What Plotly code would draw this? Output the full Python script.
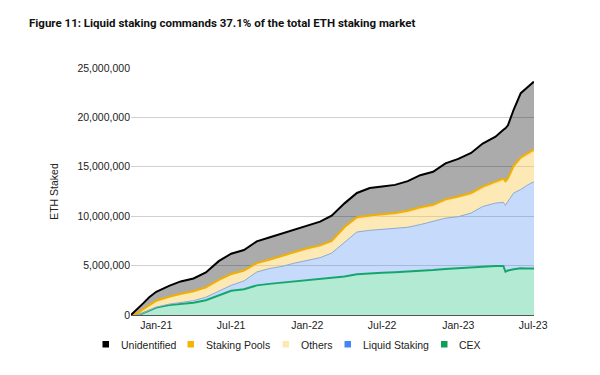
import plotly.graph_objects as go

# ---- data (values in millions of ETH) ----
dates = ["2020-11-01","2020-11-20","2020-12-01","2020-12-15","2021-01-01","2021-02-01","2021-03-01",
         "2021-04-01","2021-05-01","2021-06-01","2021-07-01","2021-08-01","2021-09-01","2021-10-01",
         "2021-11-01","2021-12-01","2022-01-01","2022-02-01","2022-03-01","2022-04-01","2022-05-01",
         "2022-06-01","2022-07-01","2022-08-01","2022-09-01","2022-10-01","2022-11-01","2022-12-01",
         "2023-01-01","2023-02-01","2023-03-01","2023-04-01","2023-04-20","2023-04-25","2023-05-01",
         "2023-05-15","2023-06-01","2023-06-15","2023-07-01","2023-07-03"]

cex_m = [0, 0.03, 0.2, 0.45, 0.75, 1.0, 1.1, 1.25, 1.5, 2.0, 2.45, 2.6, 3.0, 3.15, 3.27, 3.4, 3.5, 3.6,
         3.72, 3.9, 4.12, 4.22, 4.28, 4.33, 4.38, 4.45, 4.55, 4.65, 4.75, 4.82, 4.88, 4.95, 4.96, 4.38,
         4.5, 4.62, 4.72, 4.7, 4.7, 4.7]
liquid_m = [0, 0, 0, 0.02, 0.05, 0.1, 0.15, 0.2, 0.3, 0.45, 0.55, 0.85, 1.35, 1.55, 1.65, 1.85, 2.0, 2.2,
            2.55, 3.5, 4.28, 4.35, 4.4, 4.44, 4.5, 4.7, 4.95, 5.15, 5.2, 5.5, 6.1, 6.38, 6.44, 6.72,
            7.0, 7.73, 7.98, 8.4, 8.75, 8.75]
others_m = [0, 0.21, 0.38, 0.5, 0.6, 0.7, 0.84, 0.89, 0.93, 1.02, 1.07, 0.96, 0.81, 0.8, 0.98, 1.05, 1.14,
            1.14, 1.11, 1.38, 1.37, 1.37, 1.39, 1.42, 1.53, 1.61, 1.5, 1.75, 1.9, 1.87, 1.86, 1.95, 2.23,
            2.28, 2.18, 2.57, 3.07, 3.01, 3.1, 3.1]
pools_m = [0, 0.01, 0.02, 0.03, 0.05, 0.05, 0.06, 0.06, 0.07, 0.08, 0.08, 0.09, 0.09, 0.1, 0.1, 0.1, 0.11,
           0.11, 0.12, 0.12, 0.13, 0.13, 0.13, 0.14, 0.14, 0.14, 0.15, 0.15, 0.15, 0.16, 0.16, 0.17, 0.17,
           0.17, 0.17, 0.18, 0.18, 0.19, 0.2, 0.2]
unident_m = [0, 0.45, 0.6, 0.8, 0.9, 1.1, 1.25, 1.3, 1.5, 1.9, 2.05, 2.08, 2.2, 2.25, 2.25, 2.2, 2.25, 2.4,
             2.55, 2.4, 2.45, 2.78, 2.8, 2.84, 3.0, 3.25, 3.35, 3.65, 3.8, 4.05, 4.35, 4.6, 4.95, 5.35,
             5.35, 5.7, 6.5, 6.7, 6.8, 6.8]

tick_dates = ["2021-01-01", "2021-07-01", "2022-01-01", "2022-07-01", "2023-01-01", "2023-07-01"]
tick_text = ["Jan-21", "Jul-21", "Jan-22", "Jul-22", "Jan-23", "Jul-23"]
y_ticks = [0, 5000000, 10000000, 15000000, 20000000, 25000000]

title_text = "Figure 11: Liquid staking commands 37.1% of the total ETH staking market"

def scale(a):
    return [v * 1e6 for v in a]

series = [
    ("CEX", scale(cex_m), "#14a76c", 2, "rgba(0,185,112,0.30)"),
    ("Liquid Staking", scale(liquid_m), "rgba(140,170,210,1)", 1, "rgba(66,133,244,0.30)"),
    ("Others", scale(others_m), "rgba(250,222,150,1)", 1, "rgba(249,203,80,0.42)"),
    ("Staking Pools", scale(pools_m), "#f1b000", 2, "rgba(244,180,0,0.35)"),
    ("Unidentified", scale(unident_m), "#000000", 2, "rgba(0,0,0,0.33)"),
]

FONT = "Liberation Sans, Arial, sans-serif"

fig = go.Figure()
for name, vals, lc, lw, fc in series:
    fig.add_trace(go.Scatter(
        x=dates, y=vals, name=name, stackgroup="one", mode="lines",
        line=dict(color=lc, width=lw, shape="linear"), fillcolor=fc,
        showlegend=False, hoverinfo="skip"))

L, R, T, B = 131, 534, 68, 315
W, H = R - L, B - T

def px(x):
    return (x - L) / W

def py(y):
    return (B - y) / H

# manual legend (squares + labels)
legend_items = [("Unidentified", "#000000", 102.5, 120),
                ("Staking Pools", "#f4b400", 187.5, 205),
                ("Others", "#fce8b2", 282.5, 299.5),
                ("Liquid Staking", "#4285f4", 344.5, 362),
                ("CEX", "#0f9d58", 441, 457.5)]
shapes = []
annotations = []
for lab, col, sx, tx in legend_items:
    shapes.append(dict(type="rect", xref="paper", yref="paper",
                       x0=px(sx), x1=px(sx + 6.5), y0=py(347.5), y1=py(341),
                       fillcolor=col, line=dict(width=0)))
    annotations.append(dict(text=lab, xref="paper", yref="paper", x=px(tx), y=py(344.5),
                            xanchor="left", yanchor="middle", showarrow=False,
                            font=dict(family=FONT, size=10.5, color="#222222"), borderpad=0))

annotations.append(dict(text="<b>" + title_text + "</b>", xref="paper", yref="paper",
                        x=px(28), y=py(22.5), xanchor="left", yanchor="middle", showarrow=False,
                        font=dict(family="Roboto, sans-serif", size=11.5, color="#111111"),
                        borderpad=0))

fig.update_layout(
    width=600, height=375,
    margin=dict(l=L, r=600 - R, t=T, b=375 - B),
    paper_bgcolor="white", plot_bgcolor="white",
    showlegend=False,
    shapes=shapes, annotations=annotations,
    font=dict(family=FONT, size=10.5, color="#222222"),
)
fig.update_xaxes(
    type="date", range=["2020-11-01", "2023-07-03"],
    tickvals=tick_dates, ticktext=tick_text, showgrid=False,
    showline=True, linecolor="#555555", linewidth=1, ticks="", ticklen=0,
    tickfont=dict(family=FONT, size=10.5, color="#222222"), zeroline=False,
)
fig.update_yaxes(
    range=[0, 25000000], tickvals=y_ticks, tickformat=",d",
    showgrid=True, gridcolor="#d0d0d0", gridwidth=1, zeroline=False,
    tickfont=dict(family=FONT, size=10.5, color="#222222"),
    title=dict(text="ETH Staked", font=dict(family=FONT, size=10.5, color="#222222"), standoff=16),
    ticks="", showline=False,
)

fig.write_html("out.html", config={"displayModeBar": False},
               post_script="document.body.style.margin='0';document.body.style.overflow='hidden';")
